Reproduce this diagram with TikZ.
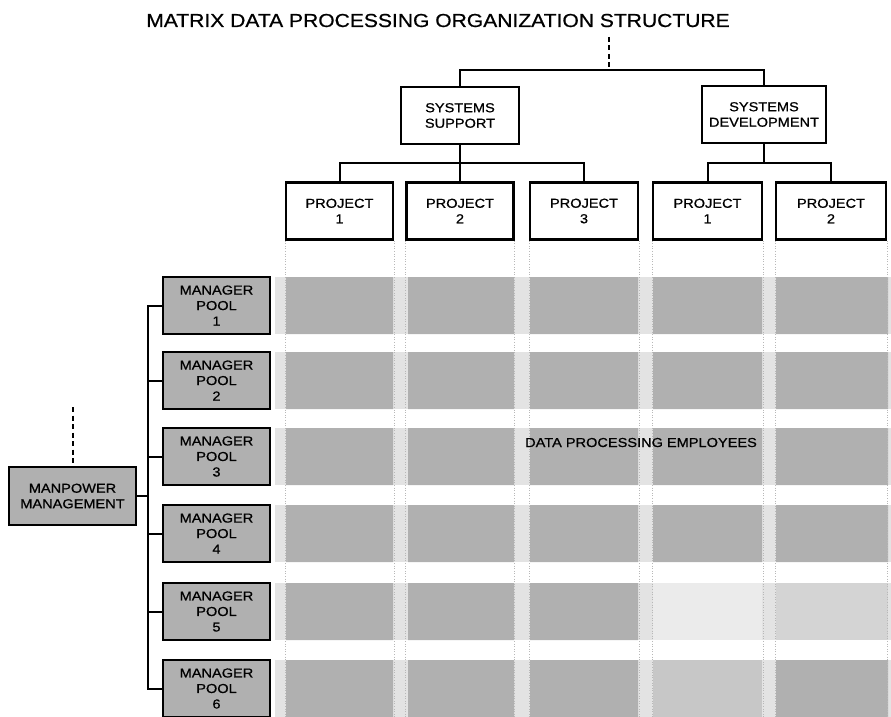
\documentclass[tikz,border=0pt]{standalone}
\usepackage{fontspec}
\newfontfamily\chartfont{Liberation Sans}[FakeStretch=1.12, FakeBold=0.7]
\usetikzlibrary{positioning}
\tikzset{every picture/.style={line width=2pt}}

\begin{document}
\begin{tikzpicture}[x=1pt, y=-1pt,
        every node/.style={font=\chartfont\fontsize{13}{15.5}\selectfont, align=center, inner sep=0pt},
        orgbox/.style={rectangle, draw, line width=2.1pt, fill=white, minimum width=107pt, minimum height=57pt},
        poolbox/.style={orgbox, fill=black!31},
        link/.style={draw, line width=2pt},
        dashlink/.style={draw, dash pattern=on 5pt off 3.5pt, line width=2pt},
        cell/.style={fill=black!31},
        band/.style={fill=black!11},
        colguide/.style={draw=black!28, line width=0.6pt, dotted}]
        \useasboundingbox (0,0) rectangle (891,717);
        % título
        \node[font=\chartfont\fontsize{18.8}{22}\selectfont, anchor=base] (title) at (438,27) {MATRIX DATA PROCESSING ORGANIZATION STRUCTURE};
        % matriz: faixas claras e células escuras, linha por linha
        \fill[band] (275,277) rectangle (891,334);
        \fill[cell] (286,277) rectangle (393,334) (408,277) rectangle (514,334) (530,277) rectangle (638,334) (653,277) rectangle (762,334) (776,277) rectangle (888,334);
        \fill[band] (275,352) rectangle (891,409);
        \fill[cell] (286,352) rectangle (393,409) (408,352) rectangle (514,409) (530,352) rectangle (638,409) (653,352) rectangle (762,409) (776,352) rectangle (888,409);
        \fill[band] (275,428) rectangle (891,485);
        \fill[cell] (286,428) rectangle (393,485) (408,428) rectangle (514,485) (530,428) rectangle (638,485) (653,428) rectangle (762,485) (776,428) rectangle (888,485);
        \fill[band] (275,505) rectangle (891,562);
        \fill[cell] (286,505) rectangle (393,562) (408,505) rectangle (514,562) (530,505) rectangle (638,562) (653,505) rectangle (762,562) (776,505) rectangle (888,562);
        \fill[band] (275,583) rectangle (891,640);
        \fill[cell] (286,583) rectangle (393,640) (408,583) rectangle (514,640) (530,583) rectangle (638,640);
        \fill[cell, fill=black!8] (653,583) rectangle (762,640);
        \fill[cell, fill=black!17] (776,583) rectangle (888,640);
        \fill[band] (275,660) rectangle (891,717);
        \fill[cell] (286,660) rectangle (393,717) (408,660) rectangle (514,717) (530,660) rectangle (638,717) (776,660) rectangle (888,717);
        \fill[cell, fill=black!22] (653,660) rectangle (762,717);
        % chefia de sistemas
        \node[orgbox, minimum width=118pt] (ss) at (460,115.5) {SYSTEMS\\SUPPORT};
        \node[orgbox, minimum width=124pt] (sd) at (764,114.5) {SYSTEMS\\DEVELOPMENT};
        % projetos
        \node[orgbox] (p1) at (339.5,211) {PROJECT\\1};
        \node[orgbox] (p2) at (460,211) {PROJECT\\2};
        \node[orgbox, minimum width=108pt] (p3) at (584,211) {PROJECT\\3};
        \node[orgbox, minimum width=109pt] (p4) at (707.5,211) {PROJECT\\1};
        \node[orgbox, minimum width=110pt] (p5) at (831,211) {PROJECT\\2};
        % guias pontilhadas das colunas
        \draw[colguide] (p1.south west) -- (p1.south west |- 0,717);
        \draw[colguide] (p1.south east) -- (p1.south east |- 0,717);
        \draw[colguide] (p2.south west) -- (p2.south west |- 0,717);
        \draw[colguide] (p2.south east) -- (p2.south east |- 0,717);
        \draw[colguide] (p3.south west) -- (p3.south west |- 0,717);
        \draw[colguide] (p3.south east) -- (p3.south east |- 0,717);
        \draw[colguide] (p4.south west) -- (p4.south west |- 0,717);
        \draw[colguide] (p4.south east) -- (p4.south east |- 0,717);
        \draw[colguide] (p5.south west) -- (p5.south west |- 0,717);
        \draw[colguide] (p5.south east) -- (p5.south east |- 0,717);
        % gerência de pessoal e pools
        \node[poolbox, minimum width=127pt, minimum height=58pt] (mm) at (72.5,496) {MANPOWER\\MANAGEMENT};
        \node[poolbox] (m1) at (216.5,305.5) {MANAGER\\POOL\\1};
        \node[poolbox] (m2) at (216.5,380.5) {MANAGER\\POOL\\2};
        \node[poolbox] (m3) at (216.5,456.5) {MANAGER\\POOL\\3};
        \node[poolbox] (m4) at (216.5,533.5) {MANAGER\\POOL\\4};
        \node[poolbox] (m5) at (216.5,611.5) {MANAGER\\POOL\\5};
        \node[poolbox] (m6) at (216.5,688.5) {MANAGER\\POOL\\6};
        \node[anchor=base] (dpe) at (641,447) {DATA PROCESSING EMPLOYEES};
        % ligações do topo
        \coordinate (dptop) at (609,37);
        \coordinate (dpjoin) at (609,70);
        \draw[dashlink] (dptop) -- (dpjoin);
        \draw[link] (ss.north) |- (dpjoin) -| (sd.north);
        \coordinate (ssjoin) at (460,163);
        \draw[link] (ss.south) -- (ssjoin);
        \draw[link] (p1.north) |- (ssjoin) -| (p3.north);
        \draw[link] (ssjoin) -- (p2.north);
        \coordinate (sdjoin) at (764,163);
        \draw[link] (sd.south) -- (sdjoin);
        \draw[link] (p4.north) |- (sdjoin) -| (p5.north);
        % ligações dos pools
        \coordinate (trunk) at (148,0);
        \coordinate (mmtop) at (72.5,407);
        \draw[dashlink] (mmtop) -- (mm.north);
        \draw[link] (m1.west) -- (m1.west -| trunk) -- (m6.west -| trunk) -- (m6.west);
        \draw[link] (m2.west) -- (m2.west -| trunk);
        \draw[link] (m3.west) -- (m3.west -| trunk);
        \draw[link] (m4.west) -- (m4.west -| trunk);
        \draw[link] (m5.west) -- (m5.west -| trunk);
        \draw[link] (mm.east) -- (mm.east -| trunk);
\end{tikzpicture}
\end{document}
